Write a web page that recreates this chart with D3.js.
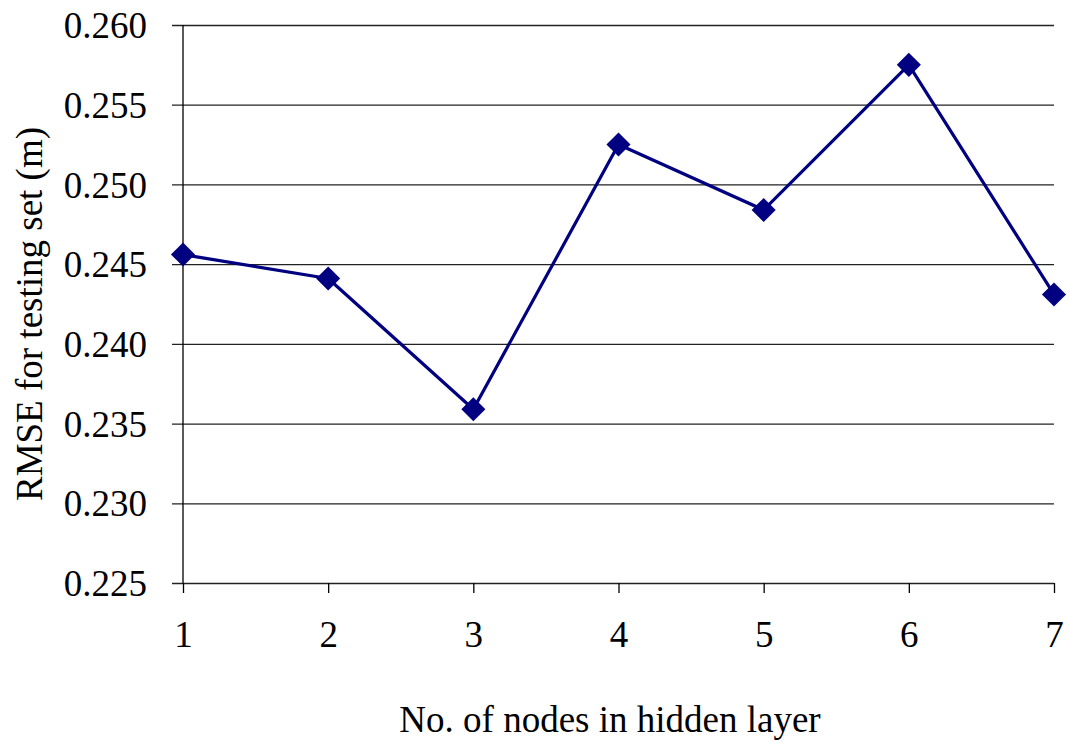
<!DOCTYPE html>
<html>
<head>
<meta charset="utf-8">
<script src="https://cdn.jsdelivr.net/npm/d3@7"></script>
<style>
  html, body { margin: 0; padding: 0; background: #fff; }
  svg { display: block; font-family: "Liberation Serif", "Times New Roman", serif; }
</style>
</head>
<body>
<svg id="chart" width="1070" height="744"></svg>
<script>
// Hidden-layer node counts and the corresponding testing RMSE
const nodes = [1, 2, 3, 4, 5, 6, 7];
const rmse = [0.2456, 0.2441, 0.2359, 0.2525, 0.2484, 0.2575, 0.2431];
const yTicks = [0.225, 0.230, 0.235, 0.240, 0.245, 0.250, 0.255, 0.260];

(function draw() {
  const svg = d3.select("#chart");
  const serif = '"Liberation Serif", "Times New Roman", serif';
  const fontSize = 37;
  const plotLeft = 183, plotRight = 1054, plotTop = 25, plotBottom = 583;

  const x = d3.scaleLinear().domain([1, 7]).range([plotLeft, plotRight]);
  const y = d3.scaleLinear().domain([0.225, 0.260]).range([plotBottom, plotTop]);

  // Horizontal gridlines with short outward ticks
  const yAxis = d3.axisLeft(y)
    .tickValues(yTicks)
    .tickFormat(d3.format(".3f"))
    .tickSize(-(plotRight - plotLeft))
    .tickSizeOuter(0);
  const gy = svg.append("g").attr("transform", `translate(${plotLeft},0)`).call(yAxis)
    .attr("font-family", serif).attr("font-size", fontSize);
  gy.select(".domain").remove();
  gy.selectAll(".tick line")
    .attr("x1", -11)
    .attr("stroke", "#222")
    .attr("stroke-width", 1.3);
  gy.selectAll(".tick text")
    .attr("x", -36)
    .attr("dy", "0.34em")
    .attr("fill", "#000");

  // Vertical axis line
  svg.append("line")
    .attr("x1", plotLeft).attr("x2", plotLeft)
    .attr("y1", plotTop).attr("y2", plotBottom)
    .attr("stroke", "#000").attr("stroke-width", 1.3);

  // Category axis along the bottom
  const xAxis = d3.axisBottom(x)
    .tickValues(nodes)
    .tickFormat(d3.format("d"))
    .tickSize(10)
    .tickSizeOuter(0);
  const gx = svg.append("g").attr("transform", `translate(0,${plotBottom})`).call(xAxis)
    .attr("font-family", serif).attr("font-size", fontSize);
  gx.select(".domain").remove();
  gx.selectAll(".tick line").attr("stroke", "#000").attr("stroke-width", 1.3);
  gx.selectAll(".tick text")
    .attr("y", 38)
    .attr("dy", "0.71em")
    .attr("fill", "#000");

  // Series line
  const line = d3.line()
    .x((d, i) => x(nodes[i]))
    .y(d => y(d));
  svg.append("path")
    .datum(rmse)
    .attr("d", line)
    .attr("fill", "none")
    .attr("stroke", "#000080")
    .attr("stroke-width", 3.2)
    .attr("stroke-linejoin", "round");

  // Diamond markers (squares turned 45 degrees)
  svg.append("g").selectAll("path")
    .data(rmse)
    .join("path")
    .attr("transform", (d, i) => `translate(${x(nodes[i])},${y(d)}) rotate(45)`)
    .attr("d", d3.symbol().type(d3.symbolSquare).size(290))
    .attr("fill", "#000080");

  // Axis titles
  svg.append("text")
    .attr("x", 610)
    .attr("y", 732)
    .attr("text-anchor", "middle")
    .attr("font-size", fontSize)
    .text("No. of nodes in hidden layer");

  svg.append("text")
    .attr("transform", `translate(42,${314}) rotate(-90)`)
    .attr("text-anchor", "middle")
    .attr("font-size", fontSize)
    .text("RMSE for testing set (m)");
})();
</script>
</body>
</html>
